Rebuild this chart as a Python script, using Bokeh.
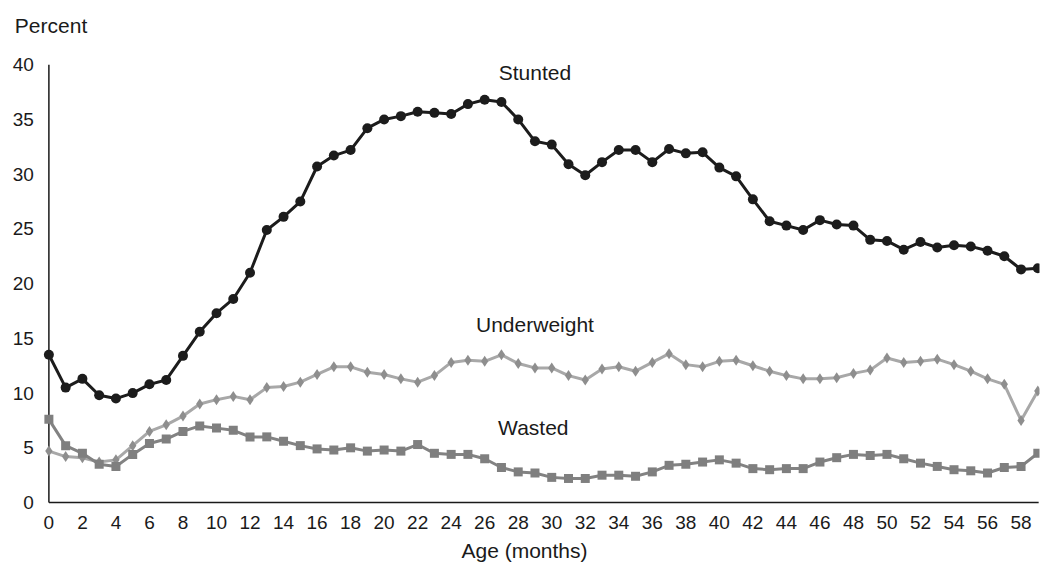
from bokeh.plotting import figure
from bokeh.models import Range1d, FixedTicker
from bokeh.core.properties import value
from bokeh.embed import file_html
from bokeh.resources import INLINE

ages = list(range(60))
stunted = [13.5, 10.5, 11.3, 9.8, 9.5, 10.0, 10.8, 11.2, 13.4, 15.6,
           17.3, 18.6, 21.0, 24.9, 26.1, 27.5, 30.7, 31.7, 32.2, 34.2,
           35.0, 35.3, 35.7, 35.6, 35.5, 36.4, 36.8, 36.6, 35.0, 33.0,
           32.7, 30.9, 29.9, 31.1, 32.2, 32.2, 31.1, 32.3, 31.9, 32.0,
           30.6, 29.8, 27.7, 25.7, 25.3, 24.9, 25.8, 25.4, 25.3, 24.0,
           23.9, 23.1, 23.8, 23.3, 23.5, 23.4, 23.0, 22.5, 21.3, 21.4]
underweight = [4.7, 4.2, 4.1, 3.7, 3.9, 5.2, 6.5, 7.1, 7.9, 9.0,
               9.4, 9.7, 9.4, 10.5, 10.6, 11.0, 11.7, 12.4, 12.4, 11.9,
               11.7, 11.3, 11.0, 11.6, 12.8, 13.0, 12.9, 13.5, 12.7, 12.3,
               12.3, 11.6, 11.2, 12.2, 12.4, 12.0, 12.8, 13.6, 12.6, 12.4,
               12.9, 13.0, 12.5, 12.0, 11.6, 11.3, 11.3, 11.4, 11.8, 12.1,
               13.2, 12.8, 12.9, 13.1, 12.6, 12.0, 11.3, 10.8, 7.5, 10.2]
wasted = [7.6, 5.2, 4.5, 3.5, 3.3, 4.4, 5.4, 5.8, 6.5, 7.0,
          6.8, 6.6, 6.0, 6.0, 5.6, 5.2, 4.9, 4.8, 5.0, 4.7,
          4.8, 4.7, 5.3, 4.5, 4.4, 4.4, 4.0, 3.2, 2.8, 2.7,
          2.3, 2.2, 2.2, 2.5, 2.5, 2.4, 2.8, 3.4, 3.5, 3.7,
          3.9, 3.6, 3.1, 3.0, 3.1, 3.1, 3.7, 4.1, 4.4, 4.3,
          4.4, 4.0, 3.6, 3.3, 3.0, 2.9, 2.7, 3.2, 3.3, 4.5]
x_ticks = list(range(0, 59, 2))
y_ticks = [0, 5, 10, 15, 20, 25, 30, 35, 40]
y_max = 40
x_max = 59.05
series_labels = ["Stunted", "Underweight", "Wasted"]
label_x = [29.0, 29.0, 28.9]
label_y = [39.3, 16.3, 6.85]
unit_label = "Percent"
unit_x = -2.03
unit_y = 43.6

FONT = "Liberation Sans"
TEXT = "#1a1a1a"

p = figure(width=1048, height=564, output_backend="svg", toolbar_location=None,
           x_range=Range1d(-2.35, 59.1), y_range=Range1d(-1.0, 45.5),
           frame_width=1030, frame_height=509,
           min_border_left=9, min_border_right=9, min_border_top=4, min_border_bottom=51)
p.background_fill_color = "white"
p.border_fill_color = "white"
p.outline_line_color = None
p.grid.visible = False

for ax in (p.xaxis[0], p.yaxis[0]):
    ax.axis_line_color = None
    ax.major_tick_line_color = None
    ax.minor_tick_line_color = None
    ax.major_tick_out = 0
    ax.major_tick_in = 0
    ax.major_label_text_font = FONT
    ax.major_label_text_font_size = "19px"
    ax.major_label_text_color = TEXT

p.yaxis.fixed_location = 0
p.xaxis.bounds = (0, x_max)
p.xaxis.ticker = FixedTicker(ticks=x_ticks)
p.yaxis.ticker = FixedTicker(ticks=y_ticks)
p.xaxis.major_label_standoff = 2
p.yaxis.major_label_standoff = 15
p.xaxis.axis_label = "Age (months)"
p.xaxis.axis_label_text_font = FONT
p.xaxis.axis_label_text_font_size = "21px"
p.xaxis.axis_label_text_font_style = "normal"
p.xaxis.axis_label_text_color = TEXT
p.xaxis.axis_label_standoff = 7

# axis lines (from zero to the axis ends)
p.segment(x0=[0, 0], y0=[0, 0], x1=[0, x_max], y1=[y_max, 0], line_color="#1a1a1a", line_width=1.5)

# series
p.line(ages, underweight, line_color="#a8a8a8", line_width=3)
p.scatter(ages, underweight, marker="diamond", size=11, fill_color="#8e8e8e", line_color=None)
p.line(ages, wasted, line_color="#828282", line_width=3)
p.scatter(ages, wasted, marker="square", size=9, fill_color="#7f7f7f", line_color=None)
p.line(ages, stunted, line_color="#1c1c1c", line_width=3)
p.scatter(ages, stunted, marker="circle", size=10, fill_color="#1c1c1c", line_color=None)

p.text(x=label_x, y=label_y, text=series_labels, text_align="center", text_baseline="middle",
       text_font=value(FONT), text_font_size="21px", text_color=TEXT)
p.text(x=[unit_x], y=[unit_y], text=[unit_label], text_align="left", text_baseline="middle",
       text_font=value(FONT), text_font_size="21px", text_color=TEXT)

open("out.html", "w").write(file_html(p, INLINE))
